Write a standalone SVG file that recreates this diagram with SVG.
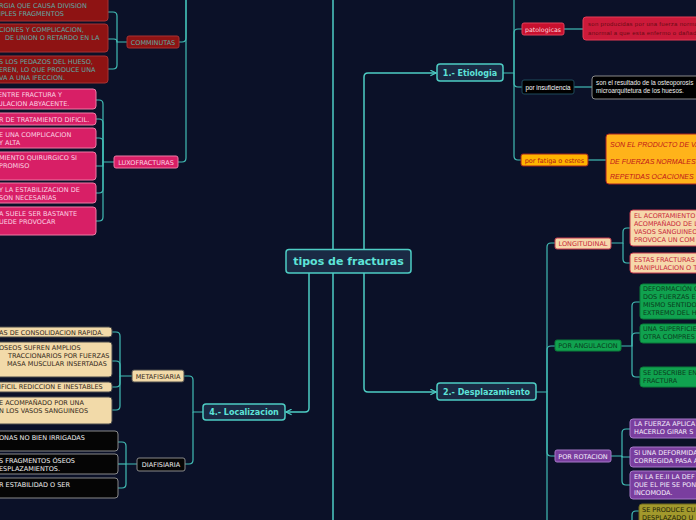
<svg xmlns="http://www.w3.org/2000/svg" width="696" height="520" viewBox="0 0 696 520">
<defs>
<marker id="arr" viewBox="0 0 10 10" refX="9" refY="5" markerWidth="7" markerHeight="7" orient="auto" markerUnits="userSpaceOnUse"><path d="M1 1 L9 5 L1 9" fill="none" stroke="#4ecdc4" stroke-width="1.8"/></marker>
<style>
.c{fill:none;stroke:#4ecdc4;stroke-width:1.5}
.cs{fill:none;stroke:#42bdb5;stroke-width:1.2}
.main rect{fill:#1a2a44;stroke:#4ecdc4;stroke-width:1.5}
.main text{font-family:"DejaVu Sans",sans-serif;font-weight:bold;fill:#5ee3d8;font-size:8px;text-anchor:middle}
.t{font-family:"DejaVu Sans",sans-serif;font-size:6.5px}
.lbl{text-anchor:middle}
.red rect{fill:#8e1313;stroke:#a83232}
.red text{fill:#5fa9a3}
.pink rect{fill:#d81f66;stroke:#f07aa5}
.pink text{fill:#fbd3e2}
.wheat rect{fill:#f2daa9;stroke:#4a4a4a}
.wheat text{fill:#33281a}
.blk rect{fill:#050505;stroke:#8a8a8a}
.blk text{fill:#eeeeee}
.peach rect{fill:#f6d8ab;stroke:#c73a4e}
.peach text{fill:#c8273a}
.grn rect{fill:#10a24f;stroke:#0b7a3a}
.grn text{fill:#0a3d1d}
.pur rect{fill:#7a3e9f;stroke:#a778c8}
.pur text{fill:#f4ecfa}
</style>
</defs>
<rect x="0" y="0" width="696" height="520" fill="#0b1128"/>

<g id="connectors">
<!-- central -->
<path class="c" d="M333 249 V0"/>
<path class="c" d="M333 273 V520"/>
<path class="c" d="M364 249 V77 Q364 73 368 73 H436" marker-end="url(#arr)"/>
<path class="c" d="M364 273 V388 Q364 392 368 392 H436" marker-end="url(#arr)"/>
<path class="c" d="M309 273 V408 Q309 412 305 412 H286" marker-end="url(#arr)"/>
<!-- top-left branch -->
<path class="cs" d="M186 0 V38 Q186 42 182 42 H179"/>
<path class="cs" d="M186 0 V158 Q186 162 182 162 H178"/>
<!-- comminutas -->
<path class="cs" d="M127 42 H117 V16 Q117 12 113 12 H108"/>
<path class="cs" d="M117 42 Q117 39 114 39 H108"/>
<path class="cs" d="M117 42 V65 Q117 69 113 69 H108"/>
<!-- luxofracturas -->
<path class="cs" d="M114 162 H103 V104 Q103 100 99 100 H96"/>
<path class="cs" d="M103 162 V123 Q103 119 99 119 H96"/>
<path class="cs" d="M103 162 V142 Q103 138 99 138 H96"/>
<path class="cs" d="M103 162 V166 H96"/>
<path class="cs" d="M103 162 V189 Q103 193 99 193 H96"/>
<path class="cs" d="M103 162 V217 Q103 221 99 221 H96"/>
<!-- etiologia -->
<path class="cs" d="M503 73 H514 V0"/>
<path class="cs" d="M514 73 V33 Q514 29 518 29 H522"/>
<path class="cs" d="M514 73 V83 Q514 87 518 87 H522"/>
<path class="cs" d="M514 73 V156 Q514 160 518 160 H521"/>
<path class="cs" d="M564 29 H583"/>
<path class="cs" d="M574 87 H592"/>
<path class="cs" d="M588 160 H606"/>
<!-- desplazamiento -->
<path class="cs" d="M536 392 H547 V520"/>
<path class="cs" d="M547 392 V247 Q547 243 551 243 H555"/>
<path class="cs" d="M547 392 V350 Q547 346 551 346 H555"/>
<path class="cs" d="M547 392 V452 Q547 456 551 456 H555"/>
<path class="cs" d="M611 243 H623 V232 Q623 228 627 228 H630"/>
<path class="cs" d="M623 243 V259 Q623 263 627 263 H630"/>
<path class="cs" d="M621 346 H632 V306 Q632 302 636 302 H640"/>
<path class="cs" d="M632 346 V337 Q632 333 636 333 H640"/>
<path class="cs" d="M632 346 V373 Q632 377 636 377 H640"/>
<path class="cs" d="M611 456 H622 V433 Q622 429 626 429 H630"/>
<path class="cs" d="M622 456 V457 H630"/>
<path class="cs" d="M622 456 V481 Q622 485 626 485 H630"/>
<path class="cs" d="M632 520 V515 Q632 511 636 511 H639"/>
<!-- localizacion -->
<path class="cs" d="M203 412 H193 V380 Q193 376 189 376 H184"/>
<path class="cs" d="M193 412 V460 Q193 464 189 464 H185"/>
<path class="cs" d="M132 376 H120 V336 Q120 332 116 332 H112"/>
<path class="cs" d="M120 376 V365 Q120 361 116 361 H112"/>
<path class="cs" d="M120 376 V383 Q120 387 116 387 H112"/>
<path class="cs" d="M120 376 V406 Q120 410 116 410 H112"/>
<path class="cs" d="M137 464 H126 V446 Q126 442 122 442 H118"/>
<path class="cs" d="M126 464 H118"/>
<path class="cs" d="M126 464 V484 Q126 488 122 488 H118"/>
</g>

<g id="central" class="main"><rect x="286" y="249.5" width="125" height="23.5" rx="3"/><text x="348.5" y="265" font-size="11" style="font-size:11px">tipos de fracturas</text></g>
<g id="etiologia" class="main"><rect x="437" y="64" width="66" height="17" rx="3"/><text x="470" y="75.5">1.- Etiologia</text></g>
<g id="desplazamiento" class="main"><rect x="437" y="383" width="99" height="17" rx="3"/><text x="486.5" y="394.5">2.- Desplazamiento</text></g>
<g id="localizacion" class="main"><rect x="203" y="404" width="82" height="16" rx="3"/><text x="244" y="415">4.- Localizacion</text></g>

<g id="comminutas" class="red"><rect x="127" y="36" width="52" height="12" rx="2"/><text class="t lbl" x="153" y="44.5">COMMINUTAS</text></g>
<g id="comm1" class="red"><rect x="-20" y="-6" width="128" height="27" rx="3"/><text class="t" x="-1" y="8.3">RGIA QUE CAUSA DIVISION</text><text class="t" x="-1" y="16.3">IPLES FRAGMENTOS</text></g>
<g id="comm2" class="red"><rect x="-20" y="24" width="128" height="28" rx="3"/><text class="t" x="-1" y="32.3">CIONES Y COMPLICACION,</text><text class="t" x="5" y="40.3">DE UNION O RETARDO EN LA</text></g>
<g id="comm3" class="red"><rect x="-20" y="56" width="128" height="27" rx="3"/><text class="t" x="-1" y="64.3">S LOS PEDAZOS DEL HUESO,</text><text class="t" x="-1" y="72.3">EREN, LO QUE PRODUCE UNA</text><text class="t" x="-1" y="80">VA A UNA IFECCION.</text></g>

<g id="luxofracturas" class="pink"><rect x="114" y="156" width="64" height="12" rx="2"/><text class="t lbl" x="146" y="164.5">LUXOFRACTURAS</text></g>
<g id="lux1" class="pink"><rect x="-20" y="89" width="116" height="20" rx="3"/><text class="t" x="-2" y="97.3">ENTRE FRACTURA Y</text><text class="t" x="-2" y="105.5">ULACION ABYACENTE.</text></g>
<g id="lux2" class="pink"><rect x="-20" y="113" width="116" height="12" rx="3"/><text class="t" x="-1" y="121.5">R DE TRATAMIENTO DIFICIL.</text></g>
<g id="lux3" class="pink"><rect x="-20" y="128" width="116" height="20" rx="3"/><text class="t" x="-1" y="136.6">E UNA COMPLICACION</text><text class="t" x="-1" y="144.6">Y ALTA</text></g>
<g id="lux4" class="pink"><rect x="-20" y="152" width="116" height="28" rx="3"/><text class="t" x="-1" y="160">MIENTO QUIRURGICO SI</text><text class="t" x="-1" y="168.3">PROMISO</text></g>
<g id="lux5" class="pink"><rect x="-20" y="183" width="116" height="20" rx="3"/><text class="t" x="-1" y="191.6">Y LA ESTABILIZACION DE</text><text class="t" x="-1" y="199.6">SON NECESARIAS</text></g>
<g id="lux6" class="pink"><rect x="-20" y="207" width="116" height="28" rx="3"/><text class="t" x="-1" y="215.6">A SUELE SER BASTANTE</text><text class="t" x="-1" y="223.6">UEDE PROVOCAR</text></g>

<g id="metafisiaria" class="wheat"><rect x="132" y="370" width="52" height="12" rx="2"/><text class="t lbl" x="158" y="378.5">METAFISIARIA</text></g>
<g id="meta1" class="wheat"><rect x="-20" y="327" width="132" height="10" rx="3"/><text class="t" x="-1" y="334.6">AS DE CONSOLIDACION RAPIDA.</text></g>
<g id="meta2" class="wheat"><rect x="-20" y="342" width="132" height="35" rx="3"/><text class="t" x="-1" y="350.3">OSEOS SUFREN AMPLIOS</text><text class="t" x="8" y="358.3">TRACCIONARIOS POR FUERZAS</text><text class="t" x="7" y="366.3">MASA MUSCULAR INSERTADAS</text></g>
<g id="meta3" class="wheat"><rect x="-20" y="382" width="132" height="10" rx="3"/><text class="t" x="-1" y="389.4">IFICIL REDICCION E INESTABLES</text></g>
<g id="meta4" class="wheat"><rect x="-20" y="397" width="132" height="27" rx="3"/><text class="t" x="-1" y="405.3">E ACOMPAÑADO POR UNA</text><text class="t" x="-1" y="413.3">N LOS VASOS SANGUINEOS</text></g>

<g id="diafisiaria" class="blk"><rect x="137" y="458" width="48" height="13" rx="2"/><text class="t lbl" x="161" y="467">DIAFISIARIA</text></g>
<g id="dia1" class="blk"><rect x="-20" y="431" width="138" height="20" rx="3"/><text class="t" x="-1" y="440">ONAS NO BIEN IRRIGADAS</text></g>
<g id="dia2" class="blk"><rect x="-20" y="454" width="138" height="20" rx="3"/><text class="t" x="-1" y="463">S FRAGMENTOS ÓSEOS</text><text class="t" x="-1" y="470.6">ESPLAZAMIENTOS.</text></g>
<g id="dia3" class="blk"><rect x="-20" y="478" width="138" height="20" rx="3"/><text class="t" x="-1" y="486.6">R ESTABILIDAD O SER</text></g>

<g id="patologicas"><rect x="522" y="23" width="42" height="12" rx="2" fill="#c8102e" stroke="#e0405a"/><text class="t lbl" x="543" y="31.5" fill="#ffd6dc" style="font-size:6.3px">patologicas</text></g>
<g id="pat-det"><rect x="583" y="17" width="140" height="23" rx="3" fill="#cc1a3a" stroke="#e63a55"/><text x="588" y="26" fill="#6a0a14" font-family="Liberation Sans, sans-serif" font-size="6" letter-spacing="0.3">son producidas por una fuerza normal</text><text x="588" y="35" fill="#6a0a14" font-family="Liberation Sans, sans-serif" font-size="6" letter-spacing="0.3">anormal a que esta enfermo o dañado.</text></g>
<g id="insuficiencia"><rect x="522" y="80" width="52" height="14" rx="2" fill="#000" stroke="#1e4a5a"/><text x="548" y="89.5" fill="#fff" font-family="Liberation Sans, sans-serif" font-size="6.3" text-anchor="middle">por insuficiencia</text></g>
<g id="ins-det"><rect x="592" y="76" width="140" height="23" rx="3" fill="#000" stroke="#8a8a8a"/><text x="596" y="84.5" fill="#f0f0f0" font-family="Liberation Sans, sans-serif" font-size="6.3">son el resultado de la osteoporosis</text><text x="596" y="93" fill="#f0f0f0" font-family="Liberation Sans, sans-serif" font-size="6.3">microarquitetura de los huesos.</text></g>
<g id="fatiga"><rect x="521" y="154" width="67" height="12" rx="2" fill="#ffb400" stroke="#a02020"/><text class="t lbl" x="554.5" y="162.5" fill="#b01818" style="font-size:6.5px">por fatiga o estres</text></g>
<g id="fat-det"><rect x="606" y="134" width="120" height="50" rx="3" fill="#ffb31a" stroke="#a22"/><text x="610" y="146.5" fill="#c0141a" font-family="Liberation Sans, sans-serif" font-style="italic" font-size="7">SON EL PRODUCTO DE VA</text><text x="610" y="163.5" fill="#c0141a" font-family="Liberation Sans, sans-serif" font-style="italic" font-size="7">DE FUERZAS NORMALES A</text><text x="610" y="178.5" fill="#c0141a" font-family="Liberation Sans, sans-serif" font-style="italic" font-size="7">REPETIDAS OCACIONES</text></g>

<g id="longitudinal" class="peach"><rect x="555" y="238" width="56" height="11" rx="2"/><text class="t lbl" x="583" y="246">LONGITUDINAL</text></g>
<g id="long1" class="peach"><rect x="630" y="210" width="100" height="36" rx="3"/><text class="t" x="634" y="218.3">EL ACORTAMIENTO</text><text class="t" x="634" y="226.3">ACOMPAÑADO DE L</text><text class="t" x="634" y="234.3">VASOS SANGUINEO</text><text class="t" x="634" y="242.3">PROVOCA UN COM</text></g>
<g id="long2" class="peach"><rect x="630" y="253" width="100" height="20" rx="3"/><text class="t" x="634" y="261.5">ESTAS FRACTURAS</text><text class="t" x="634" y="269.5">MANIPULACION O T</text></g>

<g id="angulacion" class="grn"><rect x="555" y="340" width="66" height="11" rx="2"/><text class="t lbl" x="588" y="348">POR ANGULACION</text></g>
<g id="ang1" class="grn"><rect x="640" y="284" width="90" height="35" rx="3"/><text class="t" x="643" y="291.3">DEFORMACIÓN C</text><text class="t" x="643" y="299.3">DOS FUERZAS E</text><text class="t" x="643" y="307.3">MISMO SENTIDO</text><text class="t" x="643" y="315.3">EXTREMO DEL H</text></g>
<g id="ang2" class="grn"><rect x="640" y="324" width="90" height="19" rx="3"/><text class="t" x="643" y="331.3">UNA SUPERFICIE</text><text class="t" x="643" y="339.3">OTRA COMPRES</text></g>
<g id="ang3" class="grn"><rect x="640" y="367" width="90" height="20" rx="3"/><text class="t" x="643" y="375.3">SE DESCRIBE EN</text><text class="t" x="643" y="383.3">FRACTURA</text></g>

<g id="rotacion" class="pur"><rect x="555" y="450" width="56" height="12" rx="2"/><text class="t lbl" x="583" y="458.5">POR ROTACION</text></g>
<g id="rot1" class="pur"><rect x="630" y="419" width="100" height="19" rx="3"/><text class="t" x="634" y="426.3">LA FUERZA APLICA</text><text class="t" x="634" y="434.3">HACERLO GIRAR S</text></g>
<g id="rot2" class="pur"><rect x="630" y="447" width="100" height="20" rx="3"/><text class="t" x="634" y="455.3">SI UNA DEFORMIDA</text><text class="t" x="634" y="463.3">CORREGIDA PASA A</text></g>
<g id="rot3" class="pur"><rect x="630" y="471" width="100" height="28" rx="3"/><text class="t" x="634" y="479.3">EN LA EE.II LA DEF</text><text class="t" x="634" y="487.3">QUE EL PIE SE PON</text><text class="t" x="634" y="494.8">INCOMODA.</text></g>

<g id="olive"><rect x="639" y="504" width="100" height="30" rx="3" fill="#a2992c" stroke="#6c6620"/><text class="t" x="642" y="512.3" fill="#1e1e08">SE PRODUCE CU</text><text class="t" x="642" y="519.8" fill="#1e1e08">DESPLAZADO U</text></g>
</svg>
